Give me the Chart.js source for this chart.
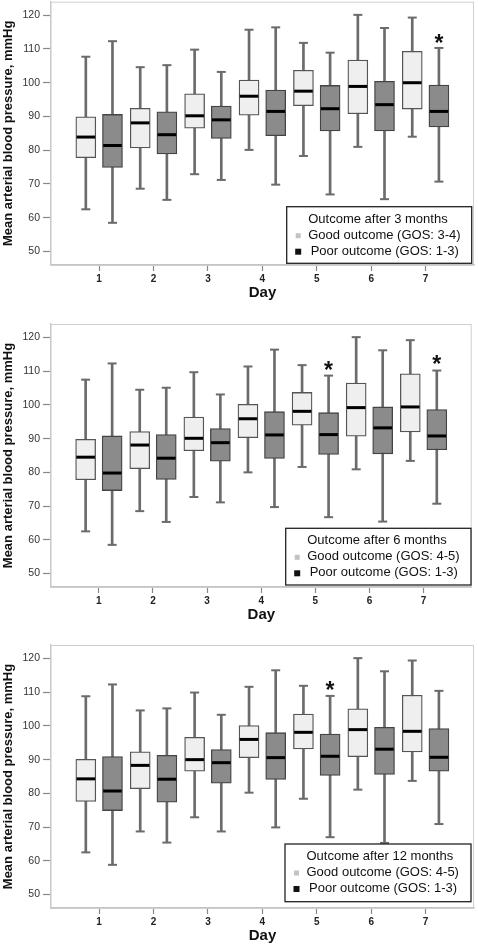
<!DOCTYPE html>
<html><head><meta charset="utf-8">
<script src="https://cdn.jsdelivr.net/npm/chart.js@4.4.1/dist/chart.umd.min.js"></script>
<style>
html,body{margin:0;padding:0;background:#fff;}
body{width:478px;height:945px;position:relative;overflow:hidden;}
canvas{position:absolute;left:0;display:block;}
</style></head><body>
<canvas id="c1" width="478" height="302" style="top:0px"></canvas>
<canvas id="c2" width="478" height="322" style="top:302px"></canvas>
<canvas id="c3" width="478" height="321" style="top:624px"></canvas>
<script>
const days = [1, 2, 3, 4, 5, 6, 7];
const yTicks = [50, 60, 70, 80, 90, 100, 110, 120];
const yTitle = 'Mean arterial blood pressure, mmHg';
const xTitle = 'Day';

// Each entry: [whisker min, Q1, median, Q3, whisker max] per day
const good3m = [
  [62.5, 77.8, 83.9, 89.9, 107.7],
  [68.6, 80.7, 88.1, 92.4, 104.6],
  [72.9, 86.5, 90.2, 96.7, 109.8],
  [80.1, 90.4, 96.0, 100.8, 115.7],
  [78.3, 93.2, 97.5, 103.7, 111.8],
  [81.0, 90.8, 98.9, 106.7, 120.1],
  [84.0, 92.2, 100.0, 109.3, 119.3]
];
const poor3m = [
  [58.5, 74.9, 81.4, 90.6, 112.3],
  [65.3, 78.9, 84.6, 91.4, 105.2],
  [71.2, 83.5, 89.0, 93.1, 103.2],
  [69.8, 84.3, 91.5, 97.8, 116.4],
  [66.9, 85.7, 92.3, 99.2, 108.9],
  [65.5, 85.7, 93.5, 100.4, 116.2],
  [70.7, 86.9, 91.5, 99.3, 110.3]
];
const good6m = [
  [62.5, 77.8, 84.5, 89.8, 107.5],
  [68.5, 81.1, 88.1, 92.1, 104.5],
  [72.7, 86.4, 90.1, 96.4, 109.7],
  [80.0, 90.3, 95.9, 100.2, 111.4],
  [81.6, 94.0, 98.1, 103.7, 111.8],
  [80.9, 90.7, 99.2, 106.5, 120.1],
  [83.4, 92.0, 99.4, 109.2, 119.2]
];
const poor6m = [
  [58.5, 74.6, 79.8, 90.8, 112.3],
  [65.3, 77.9, 84.2, 91.2, 105.1],
  [71.1, 83.3, 88.8, 93.0, 103.1],
  [69.7, 84.1, 91.1, 98.0, 116.4],
  [66.7, 85.3, 91.2, 97.7, 108.7],
  [65.4, 85.5, 93.2, 99.4, 116.2],
  [70.7, 86.7, 90.8, 98.6, 110.2]
];
const good12m = [
  [62.5, 77.6, 84.3, 90.1, 108.8],
  [68.7, 81.4, 88.3, 92.3, 104.6],
  [72.9, 86.6, 90.0, 96.6, 109.9],
  [80.2, 90.6, 96.0, 100.1, 111.6],
  [78.4, 93.2, 98.1, 103.5, 111.9],
  [81.1, 90.9, 98.9, 105.1, 120.1],
  [83.7, 92.3, 98.4, 109.1, 119.4]
];
const poor12m = [
  [58.8, 74.9, 80.7, 90.9, 112.3],
  [65.4, 77.4, 84.2, 91.3, 105.2],
  [68.7, 83.0, 89.1, 93.0, 103.3],
  [69.9, 84.1, 90.6, 98.0, 116.5],
  [67.0, 85.3, 91.0, 97.6, 108.9],
  [65.3, 85.6, 93.1, 99.6, 116.2],
  [70.9, 86.6, 90.7, 99.2, 110.4]
];
// significance markers (*): day and value where the asterisk is centred (poor-outcome box)
const stars3m = [{day: 7, y: 113.1}];
const stars6m = [{day: 5, y: 111.8}, {day: 7, y: 113.6}];
const stars12m = [{day: 5, y: 112.0}];

const legendTitles = ['Outcome after 3 months', 'Outcome after 6 months', 'Outcome after 12 months'];
const goodLabels = ['Good outcome (GOS: 3-4)', 'Good outcome (GOS: 4-5)', 'Good outcome (GOS: 4-5)'];
const poorLabel = 'Poor outcome (GOS: 1-3)';

const FONT = '"Liberation Sans", Arial, Helvetica, sans-serif';
const OFF = 0.245;

const framePlugin = {
  id: 'frame',
  beforeDatasetsDraw(chart) {
    const {ctx, chartArea: a} = chart;
    ctx.save();
    ctx.strokeStyle = '#cfcfcf';
    ctx.lineWidth = 1;
    ctx.strokeRect(a.left, a.top + 0.5, a.right - a.left - 0.5, a.bottom - a.top);
    ctx.restore();
  }
};

const starPlugin = {
  id: 'stars',
  afterDatasetsDraw(chart, args, o) {
    const {ctx, scales: {x, y}} = chart;
    ctx.save();
    ctx.fillStyle = '#111';
    ctx.font = 'bold 23px ' + FONT;
    ctx.textAlign = 'center';
    ctx.textBaseline = 'alphabetic';
    const m = ctx.measureText('*');
    const asc = m.actualBoundingBoxAscent, desc = m.actualBoundingBoxDescent;
    (o.items || []).forEach(s => {
      const px = x.getPixelForValue(s.day + OFF);
      const py = y.getPixelForValue(s.y);
      ctx.fillText('*', px, py + (asc - desc) / 2);
    });
    ctx.restore();
  }
};

const legendPlugin = {
  id: 'boxLegend',
  afterDraw(chart, args, o) {
    const {ctx, chartArea: a} = chart;
    const w = o.w, h = o.h;
    const x = a.right - o.dr - w, y = a.bottom - o.db - h;
    ctx.save();
    ctx.fillStyle = '#fff';
    ctx.fillRect(x, y, w, h);
    ctx.strokeStyle = '#222';
    ctx.lineWidth = 1.3;
    ctx.strokeRect(x, y, w, h);
    ctx.fillStyle = '#111';
    ctx.font = '13px ' + FONT;
    ctx.textBaseline = 'middle';
    ctx.textAlign = 'left';
    ctx.fillText(o.title, x + 21.5, y + 12.5);
    const items = chart.data.datasets.filter(d => d.legendSwatch);
    items.forEach((d, i) => {
      const cy = y + 28.5 + i * 16;
      const sz = i === 0 ? 5 : 6;
      ctx.fillStyle = d.legendSwatch;
      ctx.fillRect(x + 11.5 - sz / 2, cy - sz / 2 + 0.5, sz, sz);
      ctx.fillStyle = '#111';
      ctx.fillText(d.label, x + (i === 0 ? 21.5 : 24), cy);
    });
    ctx.restore();
  }
};

function boxDatasets(stats, off, label, fill, border, swatch) {
  const pos = stats.map((s, i) => days[i] + off);
  return [
    {
      type: 'bar', label: label + ' whisker', order: 5, grouped: false,
      data: stats.map((s, i) => ({x: pos[i], y: [s[0], s[4]]})),
      backgroundColor: '#6b6b6b', borderWidth: 0, barThickness: 2
    },
    {
      type: 'bar', label: label, order: 3, grouped: false, legendSwatch: swatch,
      data: stats.map((s, i) => ({x: pos[i], y: [s[1], s[3]]})),
      backgroundColor: fill, borderColor: border, borderWidth: 1.3,
      borderSkipped: false, barThickness: 20
    },
    {
      type: 'scatter', label: label + ' caps', order: 2, clip: false,
      data: stats.flatMap((s, i) => [{x: pos[i], y: s[0]}, {x: pos[i], y: s[4]}]),
      pointStyle: 'line', radius: 4.5, borderColor: '#6b6b6b', borderWidth: 2,
      backgroundColor: '#6b6b6b'
    },
    {
      type: 'scatter', label: label + ' median', order: 1, clip: false,
      data: stats.map((s, i) => ({x: pos[i], y: s[2]})),
      pointStyle: 'line', radius: 9.3, borderColor: '#000', borderWidth: 3,
      backgroundColor: '#000'
    }
  ];
}

function makeChart(id, good, poor, goodLabel, title, stars, pad, leg) {
  return new Chart(document.getElementById(id), {
    type: 'bar',
    data: {
      datasets: [
        ...boxDatasets(good, -OFF, goodLabel, '#efefef', '#555', '#c2c2c2'),
        ...boxDatasets(poor, OFF, poorLabel, '#8b8b8b', '#444', '#111')
      ]
    },
    options: {
      responsive: false,
      animation: false,
      layout: {autoPadding: false, padding: {top: pad.top, right: pad.right, left: 0, bottom: 0}},
      plugins: {
        legend: {display: false},
        tooltip: {enabled: false},
        stars: {items: stars},
        boxLegend: Object.assign({title: title}, leg)
      },
      scales: {
        x: {
          type: 'linear', min: 0.115, max: 7.89, offset: false,
          afterBuildTicks: s => { s.ticks = days.map(v => ({value: v})); },
          afterFit: s => { s.height = 37; s.paddingLeft = 0; s.paddingRight = 0; },
          grid: {display: true, offset: false, drawOnChartArea: false, drawTicks: true, tickLength: 6, tickColor: '#888', tickWidth: 1.2},
          border: {display: true, color: '#c4c4c4', width: 1.2},
          ticks: {padding: 2, autoSkip: false, maxRotation: 0, color: '#222',
                  font: {family: FONT, size: 10, weight: 'bold'}},
          title: {display: true, text: xTitle, color: '#111',
                  font: {family: FONT, size: 15, weight: 'bold'}, padding: {top: 0, bottom: 0}}
        },
        y: {
          type: 'linear', min: 46, max: 124,
          afterBuildTicks: s => { s.ticks = yTicks.map(v => ({value: v})); },
          afterFit: s => { s.width = 51; s.paddingTop = 0; s.paddingBottom = 0; },
          grid: {display: true, drawOnChartArea: false, drawTicks: true, tickLength: 8, tickColor: '#888', tickWidth: 1.2},
          border: {display: true, color: '#c4c4c4', width: 1.2},
          ticks: {padding: 3, color: '#333', font: {family: FONT, size: 10.5}},
          title: {display: true, text: yTitle, color: '#111',
                  font: {family: FONT, size: 13, weight: 'bold'}, padding: {top: 1, bottom: 0}}
        }
      }
    },
    plugins: [framePlugin, starPlugin, legendPlugin]
  });
}

makeChart('c1', good3m, poor3m, goodLabels[0], legendTitles[0], stars3m,
  {top: 1.7, right: 4}, {w: 185, h: 56.6, dr: 2.3, db: 1.7});
makeChart('c2', good6m, poor6m, goodLabels[1], legendTitles[1], stars6m,
  {top: 22, right: 6.3}, {w: 185.3, h: 56.7, dr: 0.7, db: 2});
makeChart('c3', good12m, poor12m, goodLabels[2], legendTitles[2], stars12m,
  {top: 21, right: 4}, {w: 186, h: 57.7, dr: 3, db: 6.3});
</script>
</body></html>
